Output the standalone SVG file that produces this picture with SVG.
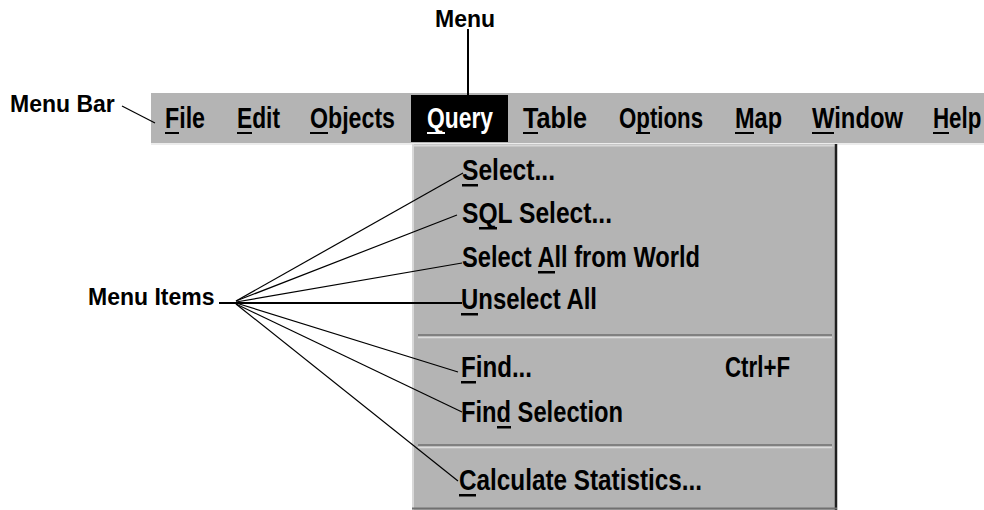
<svg xmlns="http://www.w3.org/2000/svg" width="984" height="510" viewBox="0 0 984 510">
<style>
.lbl{font-family:'Liberation Sans',Arial,sans-serif;font-weight:bold;font-size:23px;fill:#000}
.mi{font-family:'Liberation Sans',Arial,sans-serif;font-weight:bold;font-size:29px;fill:#000}
.wht{fill:#fff}
.ul{fill:#000}
.ln{stroke:#000;stroke-width:1.2;fill:none}
.lnb{stroke:#000;stroke-width:2;fill:none}
</style>
<rect x="0" y="0" width="984" height="510" fill="#fff"/>
<g id="menubar">
<rect x="151" y="93" width="833" height="50" fill="#b4b4b4"/>
<line x1="151" y1="144" x2="984" y2="144" stroke="#e6e6e6" stroke-width="1.5"/>
<rect x="411" y="95" width="97" height="47" fill="#000"/>
<text class="mi" x="165" y="128" textLength="40" lengthAdjust="spacingAndGlyphs">File</text>
<text class="mi" x="237" y="128" textLength="43" lengthAdjust="spacingAndGlyphs">Edit</text>
<text class="mi" x="310" y="128" textLength="85" lengthAdjust="spacingAndGlyphs">Objects</text>
<text class="mi wht" x="427" y="128" textLength="66" lengthAdjust="spacingAndGlyphs">Query</text>
<text class="mi" x="523" y="128" textLength="64" lengthAdjust="spacingAndGlyphs">Table</text>
<text class="mi" x="619" y="128" textLength="84" lengthAdjust="spacingAndGlyphs">Options</text>
<text class="mi" x="735" y="128" textLength="47" lengthAdjust="spacingAndGlyphs">Map</text>
<text class="mi" x="812" y="128" textLength="91" lengthAdjust="spacingAndGlyphs">Window</text>
<text class="mi" transform="translate(933 128) scale(0.77 1)" x="0" y="0">Help</text>
<rect class="ul" x="165" y="132" width="14" height="2"/>
<rect class="ul" x="237" y="132" width="15" height="2"/>
<rect class="ul" x="310" y="132" width="18" height="2"/>
<rect x="427" y="132" width="18" height="2" fill="#fff"/>
<rect class="ul" x="523" y="132" width="15" height="2"/>
<rect class="ul" x="636" y="132" width="14" height="2"/>
<rect class="ul" x="735" y="132" width="19" height="2"/>
<rect class="ul" x="812" y="132" width="22" height="2"/>
<rect class="ul" x="933" y="132" width="16" height="2"/>
</g>
<g id="dropdown">
<rect x="412" y="144" width="425" height="366" fill="#b4b4b4"/>
<line x1="413" y1="144" x2="413" y2="510" stroke="#d8d8d8" stroke-width="2"/>
<line x1="412" y1="145.5" x2="835" y2="145.5" stroke="#d8d8d8" stroke-width="2"/>
<line x1="836" y1="144" x2="836" y2="510" stroke="#202020" stroke-width="2.5"/>
<line x1="412" y1="508.5" x2="837" y2="508.5" stroke="#707070" stroke-width="2"/>
<line x1="418" y1="335" x2="832" y2="335" stroke="#808080" stroke-width="2"/>
<line x1="418" y1="337.5" x2="832" y2="337.5" stroke="#dcdcdc" stroke-width="1.5"/>
<line x1="418" y1="445" x2="832" y2="445" stroke="#808080" stroke-width="2"/>
<line x1="418" y1="447.5" x2="832" y2="447.5" stroke="#dcdcdc" stroke-width="1.5"/>
<text id="item-select" class="mi" x="462" y="180" textLength="93" lengthAdjust="spacingAndGlyphs">Select...</text>
<text id="item-sql" class="mi" x="462" y="223" textLength="150" lengthAdjust="spacingAndGlyphs">SQL Select...</text>
<text id="item-selectall" class="mi" x="462" y="267" textLength="238" lengthAdjust="spacingAndGlyphs">Select All from World</text>
<text id="item-unselect" class="mi" x="461" y="309" textLength="136" lengthAdjust="spacingAndGlyphs">Unselect All</text>
<text id="item-find" class="mi" x="461" y="377" textLength="71" lengthAdjust="spacingAndGlyphs">Find...</text>
<text id="item-ctrlf" class="mi" x="725" y="377" textLength="65" lengthAdjust="spacingAndGlyphs">Ctrl+F</text>
<text id="item-findsel" class="mi" x="461" y="422" textLength="162" lengthAdjust="spacingAndGlyphs">Find Selection</text>
<text id="item-calc" class="mi" x="459" y="490" textLength="243" lengthAdjust="spacingAndGlyphs">Calculate Statistics...</text>
<rect class="ul" x="462" y="184" width="16" height="2.5"/>
<rect class="ul" x="479" y="227" width="18" height="2.5"/>
<rect class="ul" x="538" y="271" width="17" height="2.5"/>
<rect class="ul" x="461" y="313" width="17" height="2.5"/>
<rect class="ul" x="461" y="381" width="15" height="2.5"/>
<rect class="ul" x="497" y="426" width="14" height="2.5"/>
<rect class="ul" x="459" y="494" width="17" height="2.5"/>
</g>
<g id="label-menu"><text class="lbl" x="435" y="27">Menu</text></g>
<g id="label-menubar"><text class="lbl" x="10" y="112">Menu Bar</text></g>
<g id="label-menuitems"><text class="lbl" x="88" y="305">Menu Items</text></g>
<g id="connectors">
<line class="lnb" x1="468" y1="29" x2="468" y2="95"/>
<line class="ln" x1="122" y1="106" x2="155" y2="123"/>
<line class="lnb" x1="219" y1="303" x2="462" y2="303"/>
<line class="ln" x1="236" y1="301" x2="463" y2="173"/>
<line class="ln" x1="236" y1="301" x2="457" y2="215"/>
<line class="ln" x1="236" y1="302" x2="462" y2="263"/>
<line class="ln" x1="236" y1="303" x2="458" y2="372"/>
<line class="ln" x1="236" y1="304" x2="462" y2="412"/>
<line class="ln" x1="236" y1="304" x2="458" y2="481"/>
</g>
</svg>
